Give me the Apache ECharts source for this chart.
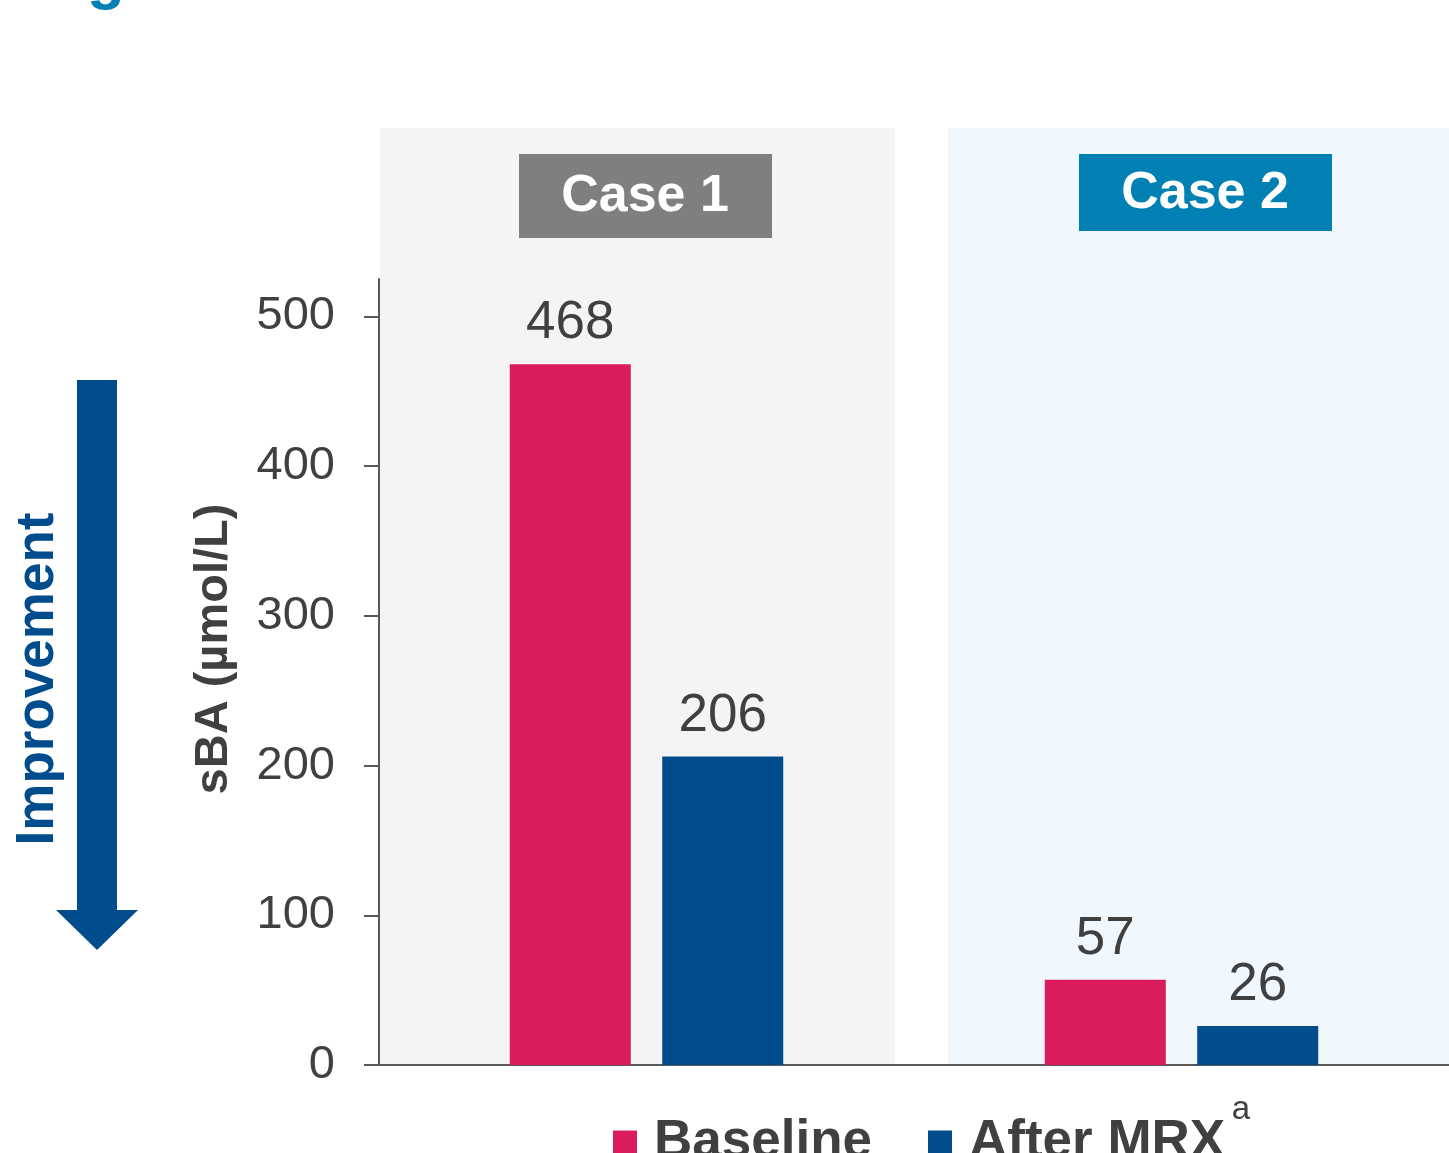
<!DOCTYPE html>
<html>
<head>
<meta charset="utf-8">
<script src="https://cdn.jsdelivr.net/npm/echarts@6/dist/echarts.min.js"></script>
<style>
  html, body { margin: 0; padding: 0; background: #fff; }
  #chart { width: 1449px; height: 1153px; }
</style>
</head>
<body>
<div id="chart"></div>
<script>
// data
var cases = ['Case 1', 'Case 2'];
var baseline = [468, 57];
var afterMrx = [206, 26];
var yTicks = [0, 100, 200, 300, 400, 500];

var FONT = '"Liberation Sans", Arial, sans-serif';
var TEXT = '#404040';
var PINK = '#da1c5c';
var BLUE = '#004c8c';
var TEAL = '#0080b3';

var chart = echarts.init(document.getElementById('chart'));

chart.setOption({
    animation: false,
    textStyle: { fontFamily: FONT },
    grid: {
        left: 379,
        right: 0,
        top: 279,
        bottom: 88
    },
    legend: {
        left: 613,
        top: 1116,
        padding: 0,
        itemWidth: 24,
        itemHeight: 24,
        itemGap: 56,
        icon: 'rect',
        textStyle: {
            fontSize: 53,
            fontWeight: 'bold',
            color: TEXT,
            fontFamily: FONT,
            padding: [0, 0, 0, 12]
        },
        data: ['Baseline', 'After MRX']
    },
    // background panels + case labels + improvement arrow + axis title
    graphic: [
        { type: 'rect', z: -10, shape: { x: 380, y: 128, width: 515, height: 937 }, style: { fill: '#f4f4f4' } },
        { type: 'rect', z: -10, shape: { x: 948, y: 128, width: 501, height: 937 }, style: { fill: '#f0f7fd' } },
        { type: 'rect', shape: { x: 519, y: 154, width: 253, height: 84 }, style: { fill: '#7f7f7f' } },
        { type: 'text', x: 645, y: 197, style: { text: 'Case 1', fill: '#fff', font: 'bold 52px ' + FONT, align: 'center', verticalAlign: 'middle' } },
        { type: 'rect', shape: { x: 1079, y: 154, width: 253, height: 77 }, style: { fill: TEAL } },
        { type: 'text', x: 1205, y: 194, style: { text: 'Case 2', fill: '#fff', font: 'bold 52px ' + FONT, align: 'center', verticalAlign: 'middle' } },
        { type: 'rect', shape: { x: 77, y: 380, width: 40, height: 532 }, style: { fill: BLUE } },
        { type: 'polygon', shape: { points: [[56, 910], [138, 910], [97, 950]] }, style: { fill: BLUE } },
        { type: 'text', x: 38, y: 679, rotation: Math.PI / 2, style: { text: 'Improvement', fill: BLUE, font: 'bold 53px ' + FONT, align: 'center', verticalAlign: 'middle' } },
        { type: 'text', x: 214, y: 649, rotation: Math.PI / 2, style: { text: 'sBA (µmol/L)', fill: TEXT, font: 'bold 47px ' + FONT, align: 'center', verticalAlign: 'middle' } },
        { type: 'text', x: 1241, y: 1110, style: { text: 'a', fill: TEXT, font: '33px ' + FONT, align: 'center', verticalAlign: 'middle' } },
        { type: 'text', x: 106, y: -20, style: { text: 'g', fill: TEAL, font: 'bold 62px ' + FONT, align: 'center', verticalAlign: 'middle' } }
    ],
    xAxis: {
        type: 'category',
        data: cases,
        axisLine: { lineStyle: { color: '#595959', width: 2 } },
        axisTick: { show: false },
        axisLabel: { show: false }
    },
    yAxis: {
        type: 'value',
        min: 0,
        max: 525,
        axisLine: { show: true, lineStyle: { color: '#595959', width: 2 } },
        axisTick: { show: true, length: 15, customValues: yTicks, lineStyle: { color: '#595959', width: 2 } },
        axisLabel: { fontSize: 47, color: TEXT, margin: 44, customValues: yTicks },
        splitLine: { show: false }
    },
    series: [{
        name: 'Baseline',
        type: 'bar',
        data: baseline,
        barWidth: 121,
        barGap: '26%',
        itemStyle: { color: PINK },
        label: { show: true, position: 'top', distance: 14, fontSize: 53, color: TEXT }
    }, {
        name: 'After MRX',
        type: 'bar',
        data: afterMrx,
        barWidth: 121,
        itemStyle: { color: BLUE },
        label: { show: true, position: 'top', distance: 14, fontSize: 53, color: TEXT }
    }]
});
</script>
</body>
</html>
